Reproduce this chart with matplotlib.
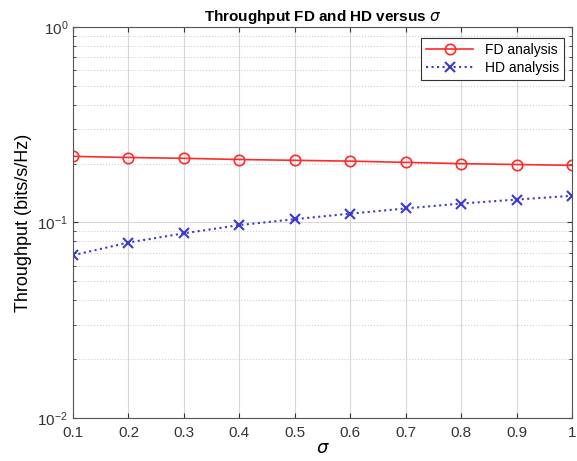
import matplotlib
matplotlib.use('Agg')
import matplotlib.pyplot as plt
from matplotlib.ticker import LogLocator, NullFormatter

plt.rcParams['font.family'] = ['Liberation Sans', 'DejaVu Sans']
plt.rcParams['mathtext.fontset'] = 'dejavusans'

# Daten
sigma = [0.1, 0.2, 0.3, 0.4, 0.5, 0.6, 0.7, 0.8, 0.9, 1.0]
fd_analysis = [0.218, 0.215, 0.213, 0.210, 0.208, 0.206, 0.203, 0.200, 0.198, 0.196]
hd_analysis = [0.068, 0.079, 0.088, 0.097, 0.104, 0.111, 0.118, 0.125, 0.131, 0.137]
x_ticks = [0.1, 0.2, 0.3, 0.4, 0.5, 0.6, 0.7, 0.8, 0.9, 1]
x_ticklabels = ['0.1', '0.2', '0.3', '0.4', '0.5', '0.6', '0.7', '0.8', '0.9', '1']

fig = plt.figure(figsize=(5.77, 4.61), dpi=100)
ax = fig.add_axes([73/577, 43/461, 499/577, 391/461])

ax.semilogy(sigma, fd_analysis, '-o', color='#ff2a2a', lw=1.2, ms=7.5,
            mfc='none', mew=1.2, label='FD analysis')
ax.semilogy(sigma, hd_analysis, ':x', color='#3a3acc', lw=1.5, ms=6.5,
            mew=1.5, label='HD analysis')

ax.set_xlim(0.1, 1)
ax.set_ylim(1e-2, 1)
ax.set_xticks(x_ticks)
ax.set_xticklabels(x_ticklabels)
ax.yaxis.set_minor_locator(LogLocator(base=10, subs=range(2, 10)))
ax.yaxis.set_minor_formatter(NullFormatter())

ax.grid(True, which='major', color='#d8d8d8', lw=0.8, ls='-')
ax.grid(True, which='minor', axis='y', color='#d0d0d0', lw=0.8, ls=':')
ax.tick_params(which='both', direction='in', labelsize=11, colors='#333333',
               top=True, right=True)
ax.tick_params(axis='x', pad=6)
for s in ax.spines.values():
    s.set_color('#555555')

ax.set_xlabel(r'$\sigma$', fontsize=13, labelpad=0)
ax.set_ylabel('Throughput (bits/s/Hz)', fontsize=13)
ax.set_title(r'Throughput FD and HD versus $\sigma$', fontsize=11,
             fontweight='bold', pad=4)

leg = ax.legend(loc='upper right', fontsize=10, fancybox=False,
                edgecolor='#333333', framealpha=1, handlelength=3.4,
                borderpad=0.35, labelspacing=0.3,
                bbox_to_anchor=(0.997, 0.99))
leg.get_frame().set_linewidth(0.8)

fig.savefig('out.png', dpi=100)
